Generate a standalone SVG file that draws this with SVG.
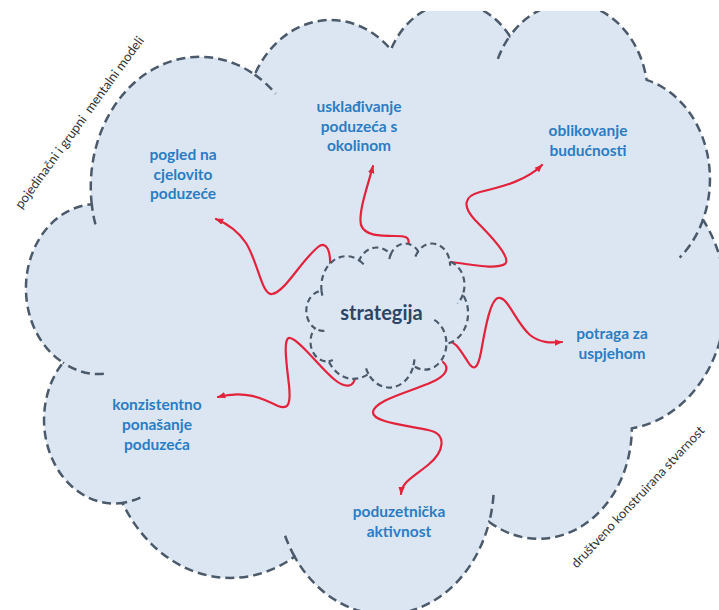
<svg xmlns="http://www.w3.org/2000/svg" width="719" height="610" viewBox="0 0 719 610">
<defs>
<style>
.cloud{fill:#dce6f2;stroke:#4b5a6b;stroke-width:2.5;stroke-dasharray:9 5}
.inner{fill:none;stroke:#4b5a6b;stroke-width:2.5;stroke-dasharray:9 5}
.scloud{fill:#dce6f2;stroke:#4b5a6b;stroke-width:2.2;stroke-dasharray:6 4}
.sinner{fill:none;stroke:#4b5a6b;stroke-width:2.2;stroke-dasharray:6 4}
.lbl{font-family:Lato,"Open Sans","Liberation Sans",sans-serif;font-weight:700;font-size:15.5px;fill:#2a7dc4;text-anchor:middle}
.core{font-family:Lato,"Open Sans","Liberation Sans",sans-serif;font-weight:700;font-size:20px;fill:#2b4566;text-anchor:middle}
.side{font-family:Lato,"Open Sans","Liberation Sans",sans-serif;font-size:13px;fill:#333333;text-anchor:middle}
.arr{fill:none;stroke:#e2233b;stroke-width:2.2;stroke-linecap:round;marker-end:url(#ah)}
</style>
<clipPath id="clipTop"><rect x="0" y="11" width="719" height="599"/></clipPath>
<marker id="ah" viewBox="0 0 10 10" refX="9" refY="5" markerWidth="8" markerHeight="8" markerUnits="userSpaceOnUse" orient="auto">
<path d="M0,1 L10,5 L0,9 z" fill="#e2233b"/>
</marker>
</defs>
<rect width="719" height="610" fill="#ffffff"/>

<g id="outer-cloud" clip-path="url(#clipTop)">
<path class="cloud" d="M91.77,204.34 A108.85,130.04 0 0 1 254.66,74.61 A85.96,102.83 0 0 1 390.90,49.58 A70.36,84.12 0 0 1 509.81,36.11 A78.29,93.32 0 0 1 646.58,79.91 A85.96,102.91 0 0 1 703.00,219.76 A109.21,130.46 0 0 1 631.85,428.38 A93.25,111.32 0 0 1 489.22,521.92 A108.84,130.39 0 0 1 294.59,556.62 A124.44,149.18 0 0 1 122.50,502.91 A70.28,83.74 0 0 1 63.00,362.52 A70.04,84.12 0 0 1 91.77,204.34 Z"/>
<path class="inner" d="M103.83,373.80 A70.04,84.12 0 0 1 63.00,362.52 M140.37,497.51 A70.28,83.74 0 0 1 122.50,502.91 M294.59,556.62 A108.84,130.39 0 0 1 283.81,531.96 M493.52,494.90 A108.84,130.39 0 0 1 489.22,521.92 M703.00,219.76 A85.96,102.91 0 0 1 679.66,257.62 M497.85,58.94 A78.29,93.32 0 0 1 509.81,36.11 M254.66,74.61 A108.85,130.04 0 0 1 275.64,93.72 M95.43,224.41 A108.85,130.04 0 0 1 91.77,204.34"/>
</g>

<g id="side-labels">
<text class="side" xml:space="preserve" transform="translate(83,125) rotate(-54)">pojedinačni i grupni  mentalni modeli</text>
<text class="side" transform="translate(641,500) rotate(-47)">društveno konstruirana stvarnost</text>
</g>

<g id="connectors">
<path class="arr" d="M330,268 C331,252 327,240 318,247 C300,262 285,292 272,294 C262,296 258,262 246,243 C238,231 228,224 216,219"/>
<path class="arr" d="M408,246 C411,236 404,236 395,236 C380,236 365,236 361,225 C358,212 368,185 373,166"/>
<path class="arr" d="M450,262 C470,264 495,270 505,264 C512,258 490,235 475,220 C462,206 464,196 480,192 C505,186 527,180 542,165"/>
<path class="arr" d="M447,342 C455,340 460,350 468,362 C474,372 478,368 481,352 C485,330 490,300 498,298 C508,296 515,322 530,335 C540,343 550,343 562,342"/>
<path class="arr" d="M443,362 C450,368 446,376 432,382 C410,392 375,400 373,412 C372,422 405,425 428,430 C448,434 444,452 428,465 C412,478 402,482 401,494"/>
<path class="arr" d="M355,377 C354,388 345,388 335,380 C320,368 300,340 290,338 C283,337 286,360 289,385 C291,405 288,410 278,406 C262,398 245,390 218,397"/>
</g>

<g id="node-strategija">
<path class="scloud" d="M321.53,290.90 A25.17,30.63 0 0 1 359.20,260.34 A19.88,24.22 0 0 1 390.70,254.44 A16.27,19.82 0 0 1 418.19,251.27 A18.10,21.98 0 0 1 449.81,261.59 A19.88,24.24 0 0 1 462.86,294.53 A25.25,30.73 0 0 1 446.41,343.68 A21.56,26.22 0 0 1 413.43,365.71 A25.16,30.72 0 0 1 368.43,373.89 A28.77,35.14 0 0 1 328.64,361.24 A16.25,19.73 0 0 1 314.88,328.16 A16.19,19.82 0 0 1 321.53,290.90 Z"/>
<path class="sinner" d="M324.32,330.82 A16.19,19.82 0 0 1 314.88,328.16 M332.77,359.96 A16.25,19.73 0 0 1 328.64,361.24 M368.43,373.89 A25.16,30.72 0 0 1 365.94,368.08 M414.42,359.35 A25.16,30.72 0 0 1 413.43,365.71 M434.29,319.89 A21.56,26.22 0 0 1 446.41,343.68 M462.86,294.53 A19.88,24.24 0 0 1 457.46,303.45 M449.81,261.59 A18.10,21.98 0 0 1 450.10,265.80 M415.42,256.65 A18.10,21.98 0 0 1 418.19,251.27 M389.36,259.07 A16.27,19.82 0 0 1 390.70,254.44 M359.20,260.34 A25.17,30.63 0 0 1 364.05,264.84 M322.38,295.63 A25.17,30.63 0 0 1 321.53,290.90"/>
<text class="core" x="381.5" y="320">strategija</text>
</g>

<g id="node-pogled">
<text class="lbl" x="183" y="160">pogled na</text>
<text class="lbl" x="183" y="179.5">cjelovito</text>
<text class="lbl" x="183" y="199">poduzeće</text>
</g>
<g id="node-uskladivanje">
<text class="lbl" x="359" y="112">usklađivanje</text>
<text class="lbl" x="359" y="131.5">poduzeća s</text>
<text class="lbl" x="359" y="151">okolinom</text>
</g>
<g id="node-oblikovanje">
<text class="lbl" x="588" y="136">oblikovanje</text>
<text class="lbl" x="588" y="156">budućnosti</text>
</g>
<g id="node-potraga">
<text class="lbl" x="612" y="339">potraga za</text>
<text class="lbl" x="612" y="359">uspjehom</text>
</g>
<g id="node-konzistentno">
<text class="lbl" x="157" y="410">konzistentno</text>
<text class="lbl" x="157" y="430">ponašanje</text>
<text class="lbl" x="157" y="450">poduzeća</text>
</g>
<g id="node-poduzetnicka">
<text class="lbl" x="399" y="517">poduzetnička</text>
<text class="lbl" x="399" y="537">aktivnost</text>
</g>
</svg>
